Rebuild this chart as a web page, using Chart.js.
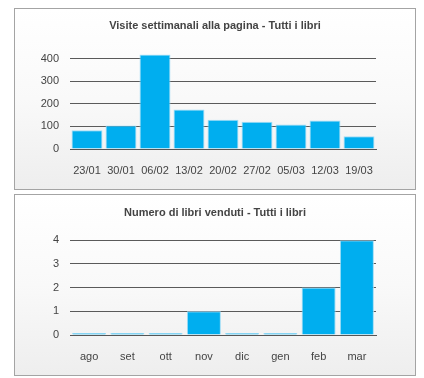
<!DOCTYPE html>
<html>
<head>
<meta charset="utf-8">
<script src="https://cdn.jsdelivr.net/npm/chart.js@4"></script>
<style>
  html, body { margin: 0; padding: 0; background: #fff; }
  body { width: 424px; height: 378px; position: relative; overflow: hidden; }
  .panel {
    position: absolute; left: 14px; width: 400px; height: 180px;
    border: 1px solid #a4a4a4;
    background: linear-gradient(to bottom, #ffffff 0%, #f9f9f9 50%, #eeeeee 100%);
  }
  .panel canvas { display: block; }
</style>
</head>
<body>
<div class="panel" style="top:8px"><canvas id="chart-visits" width="400" height="180"></canvas></div>
<div class="panel" style="top:194px"><canvas id="chart-sales" width="400" height="180"></canvas></div>
<script>
  // Weekly page visits
  var visitWeeks  = ['23/01', '30/01', '06/02', '13/02', '20/02', '27/02', '05/03', '12/03', '19/03'];
  var visitCounts = [83, 104, 419, 175, 130, 121, 108, 126, 56];
  var visitTicks  = [0, 100, 200, 300, 400];

  // Books sold per month
  var saleMonths = ['ago', 'set', 'ott', 'nov', 'dic', 'gen', 'feb', 'mar'];
  var saleCounts = [0, 0, 0, 1, 0, 0, 2, 4];
  var saleTicks  = [0, 1, 2, 3, 4];

  var FONT = '"Liberation Sans", Arial, sans-serif';
  var BLUE = '#00aeef';
  var TEXT = '#444';

  // an empty right-hand axis reserves the right margin so the title
  // stays centred on the whole panel
  function barChart(id, title, labels, values, ticks, opts) {
    return new Chart(document.getElementById(id), {
      type: 'bar',
      data: {
        labels: labels,
        datasets: [{
          data: values,
          backgroundColor: BLUE,
          borderColor: '#9fdcf6',
          borderWidth: { top: 1, left: 1, right: 1, bottom: 0 },
          borderSkipped: 'bottom',
          barPercentage: opts.barPct,
          categoryPercentage: 1,
          minBarLength: 2,
        }],
      },
      options: {
        responsive: false,
        animation: false,
        layout: { padding: 0 },
        plugins: {
          legend: { display: false },
          tooltip: { enabled: false },
          title: {
            display: true,
            text: title,
            color: TEXT,
            font: { family: FONT, size: 11, weight: 'bold' },
            padding: { top: opts.titleTop, bottom: opts.titleBottom },
          },
        },
        scales: {
          x: {
            grid: { display: false },
            border: { display: true, color: '#555', width: 1 },
            ticks: { color: TEXT, font: { family: FONT, size: 11 }, padding: 7, maxRotation: 0 },
            afterFit: function (s) { s.height = 40; },
          },
          y: {
            min: ticks[0],
            max: opts.yMax,
            afterBuildTicks: function (s) { s.ticks = ticks.map(function (v) { return { value: v }; }); },
            grid: { color: '#5a5a5a', lineWidth: 1, drawTicks: false },
            border: { display: false },
            ticks: { color: TEXT, font: { family: FONT, size: 11 }, padding: 11 },
            afterFit: function (s) { s.width = 55; },
          },
          spacer: {
            type: 'linear',
            position: 'right',
            grid: { display: false },
            border: { display: false },
            ticks: { display: false },
            afterFit: function (s) { s.width = 39; },
          },
        },
      },
    });
  }

  barChart('chart-visits', 'Visite settimanali alla pagina - Tutti i libri',
    visitWeeks, visitCounts, visitTicks, { barPct: 0.91, titleTop: 10, titleBottom: 22, yMax: 420 });
  barChart('chart-sales', 'Numero di libri venduti - Tutti i libri',
    saleMonths, saleCounts, saleTicks, { barPct: 0.89, titleTop: 11, titleBottom: 21, yMax: 4 });
</script>
</body>
</html>
